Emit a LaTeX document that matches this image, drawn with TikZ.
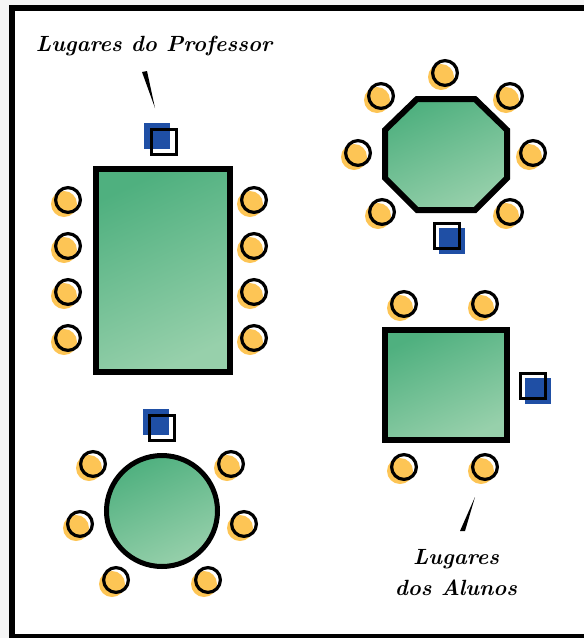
\documentclass[tikz,border=0pt]{standalone}
\usepackage{amsmath}
\usepackage{tikz}
\usetikzlibrary{positioning,shapes.geometric,calc}
\definecolor{tabledark}{HTML}{4FB07F}
\definecolor{tablelight}{HTML}{97D0AB}
\definecolor{seatorange}{HTML}{FDC555}
\definecolor{placeblue}{HTML}{1F4FA5}
\newcommand{\seat}[2]{
    \fill[white] (#1,#2) circle (12.4);
    \fill[seatorange] ($(#1,#2)+(-4,4)$) circle (13);
    \draw[line width=3.2pt] (#1,#2) circle (12.4);
}
\newcommand{\place}[3]{
    \node[blueplace] at ($(#1,#2)+#3$) {};
    \node[blackplace] at (#1,#2) {};
}
\tikzset{
    tablebox/.style={draw,line width=6pt,top color=tabledark,bottom color=tablelight,shading angle=25,inner sep=0pt},
    blueplace/.style={fill=placeblue,minimum size=26pt,inner sep=0pt},
    blackplace/.style={draw,line width=2.8pt,minimum size=25pt,inner sep=0pt},
    script/.style={font=\fontsize{22}{31}\selectfont\bfseries\itshape,align=center,inner sep=0pt},
}

\begin{document}
\begin{tikzpicture}[x=1pt,y=-1pt]
    \useasboundingbox (0,0) rectangle (584,638);
    \fill[black!4] (0,0) rectangle (584,5);
    \fill[black!4] (0,0) rectangle (9,638);
    \draw[line width=6pt] (584,8) -- (12,8) -- (12,637) -- (584,637);
    % tables
    \node[tablebox,minimum width=134pt,minimum height=203pt] (rectTable) at (163,270) {};
    \node[tablebox,minimum width=122pt,minimum height=110pt] (squareTable) at (446,385) {};
    \node[tablebox,circle,line width=5pt,minimum size=111pt] (roundTable) at (162,511) {};
    \shade[draw,line width=6pt,top color=tabledark,bottom color=tablelight,shading angle=25]
        (417,99) -- (475,99) -- (507,130) -- (507,178) -- (475,210) -- (417,210) -- (385,178) -- (385,130) -- cycle;
    % seats
    \foreach \y in {200,246,292,338} {
        \seat{68}{\y}
        \seat{254}{\y}
    }
    \foreach \x/\y in {445/73,381/96,510/96,358/153,533/153,382/212,510/212,
                       404/304,485/304,404/467,485/467,
                       93/464,231/464,80/524,244/524,116/580,208/580} {
        \seat{\x}{\y}
    }
    % places of the teacher
    \place{164}{142}{(-7,-6)}
    \place{162}{428}{(-6,-6)}
    \place{447}{236}{(5,5)}
    \place{533}{386}{(5,5)}
    % labels
    \node[script] (profLabel) at (154,46) {Lugares do Professor};
    \node[script] (alunosLabel) at (456,573) {Lugares\\dos Alunos};
    \coordinate (profTip) at (155,108);
    \coordinate (alunosTip) at (475,497);
    \fill (142,72) -- (147,71) -- (profTip) -- cycle;
    \fill (460,531) -- (465,531) -- (alunosTip) -- cycle;
\end{tikzpicture}
\end{document}
